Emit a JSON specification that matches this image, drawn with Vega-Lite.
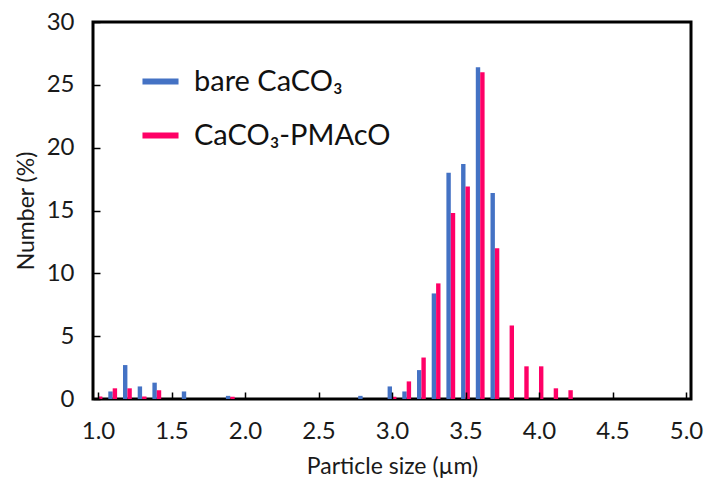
{
  "$schema": "https://vega.github.io/schema/vega-lite/v6.json",
  "width": 598,
  "height": 377,
  "autosize": "none",
  "padding": {"left": 93, "top": 22, "right": 18, "bottom": 82},
  "background": "white",
  "config": {
    "font": "Lato",
    "view": {"stroke": "black", "strokeWidth": 3},
    "axis": {"domain": false, "grid": false, "labelColor": "#1a1a1a", "titleColor": "#1a1a1a", "labelFont": "Lato", "titleFont": "Lato", "titleFontWeight": "normal"}
  },
  "data": {
    "values": [
      {"size": 1.1, "series": "bare CaCO₃", "value": 0.6},
      {"size": 1.2, "series": "bare CaCO₃", "value": 2.7},
      {"size": 1.3, "series": "bare CaCO₃", "value": 1.0},
      {"size": 1.4, "series": "bare CaCO₃", "value": 1.3},
      {"size": 1.6, "series": "bare CaCO₃", "value": 0.6},
      {"size": 1.9, "series": "bare CaCO₃", "value": 0.25},
      {"size": 2.8, "series": "bare CaCO₃", "value": 0.25},
      {"size": 3.0, "series": "bare CaCO₃", "value": 1.0},
      {"size": 3.1, "series": "bare CaCO₃", "value": 0.6},
      {"size": 3.2, "series": "bare CaCO₃", "value": 2.3},
      {"size": 3.3, "series": "bare CaCO₃", "value": 8.4},
      {"size": 3.4, "series": "bare CaCO₃", "value": 18.0},
      {"size": 3.5, "series": "bare CaCO₃", "value": 18.7},
      {"size": 3.6, "series": "bare CaCO₃", "value": 26.4},
      {"size": 3.7, "series": "bare CaCO₃", "value": 16.4},
      {"size": 1.0, "series": "CaCO₃-PMAcO", "value": 0.2},
      {"size": 1.1, "series": "CaCO₃-PMAcO", "value": 0.85},
      {"size": 1.2, "series": "CaCO₃-PMAcO", "value": 0.85},
      {"size": 1.3, "series": "CaCO₃-PMAcO", "value": 0.2},
      {"size": 1.4, "series": "CaCO₃-PMAcO", "value": 0.7},
      {"size": 1.9, "series": "CaCO₃-PMAcO", "value": 0.18},
      {"size": 3.0, "series": "CaCO₃-PMAcO", "value": 0.18},
      {"size": 3.1, "series": "CaCO₃-PMAcO", "value": 1.4},
      {"size": 3.2, "series": "CaCO₃-PMAcO", "value": 3.3},
      {"size": 3.3, "series": "CaCO₃-PMAcO", "value": 9.2},
      {"size": 3.4, "series": "CaCO₃-PMAcO", "value": 14.8},
      {"size": 3.5, "series": "CaCO₃-PMAcO", "value": 16.9},
      {"size": 3.6, "series": "CaCO₃-PMAcO", "value": 26.0},
      {"size": 3.7, "series": "CaCO₃-PMAcO", "value": 12.0},
      {"size": 3.8, "series": "CaCO₃-PMAcO", "value": 5.85},
      {"size": 3.9, "series": "CaCO₃-PMAcO", "value": 2.6},
      {"size": 4.0, "series": "CaCO₃-PMAcO", "value": 2.6},
      {"size": 4.1, "series": "CaCO₃-PMAcO", "value": 0.85},
      {"size": 4.2, "series": "CaCO₃-PMAcO", "value": 0.7}
    ]
  },
  "encoding": {
    "x": {
      "field": "size", "type": "quantitative",
      "scale": {"domain": [1, 5], "nice": false, "zero": false},
      "axis": {"values": [1, 1.5, 2, 2.5, 3, 3.5, 4, 4.5, 5], "format": ".1f", "labelFontSize": 24, "offset": -7, "tickSize": 7, "ticks": true, "tickColor": "black", "tickWidth": 1.5, "zindex": 2, "labelPadding": 20, "title": "Particle size (µm)", "titleFontSize": 23, "titlePadding": 12, "labelFlush": false}
    },
    "y": {
      "field": "value", "type": "quantitative",
      "scale": {"domain": [0, 30], "nice": false},
      "axis": {"values": [0, 5, 10, 15, 20, 25, 30], "labelFontSize": 24, "offset": -7, "tickSize": 7, "ticks": true, "tickColor": "black", "tickWidth": 1.5, "zindex": 2, "labelPadding": 19, "title": "Number (%)", "titleFontSize": 23, "titlePadding": 8, "labelFlush": false}
    },
    "color": {
      "field": "series", "type": "nominal",
      "scale": {"domain": ["bare CaCO₃", "CaCO₃-PMAcO"], "range": ["#4472C4", "#FF0066"]},
      "legend": {"title": null, "orient": "none", "legendX": 49, "legendY": 41, "padding": 0, "symbolType": "M-1,-0.17L1,-0.17L1,0.17L-1,0.17Z", "symbolSize": 1300, "symbolStrokeWidth": 0, "labelFontSize": 29, "labelColor": "#111", "rowPadding": 20, "labelOffset": 15, "labelLimit": 0}
    }
  },
  "layer": [
    {
      "transform": [{"filter": "datum.series === 'bare CaCO₃'"}],
      "mark": {"type": "bar", "width": 4.4, "xOffset": -2.2}
    },
    {
      "transform": [{"filter": "datum.series === 'CaCO₃-PMAcO'"}],
      "mark": {"type": "bar", "width": 4.4, "xOffset": 2.2}
    }
  ]
}
